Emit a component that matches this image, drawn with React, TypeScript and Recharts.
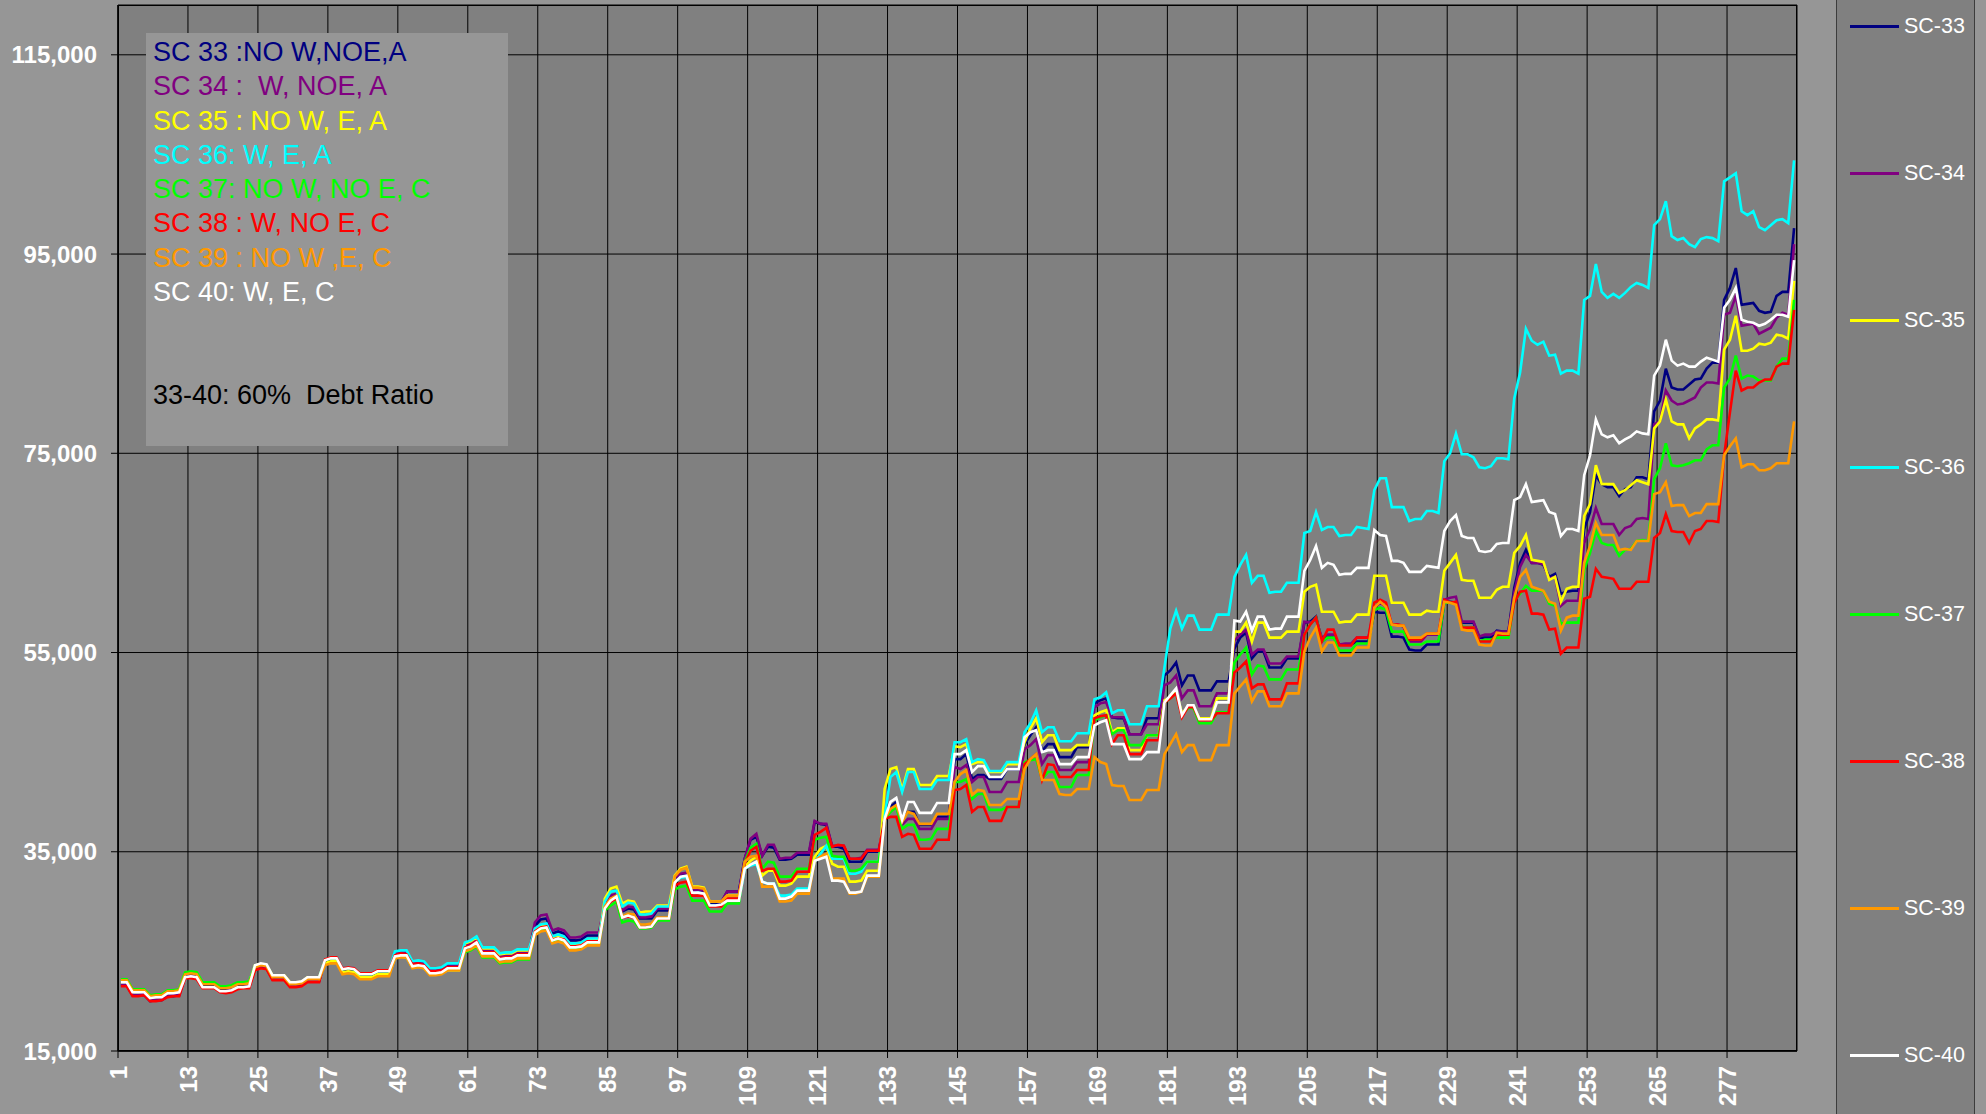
import { LineChart, Line, XAxis, YAxis, CartesianGrid } from 'recharts';

// month index 1..288 (24 years of monthly values)
const months = Array.from({ length: 288 }, (_, i) => i + 1);
const xTickLabels = [1, 13, 25, 37, 49, 61, 73, 85, 97, 109, 121, 133, 145, 157, 169, 181, 193, 205, 217, 229, 241, 253, 265, 277];
const yTicks = [15, 35, 55, 75, 95, 115]; // thousands

// values in thousands, one row per 12 months
const sc33 = [
  21.6, 21.6, 20.6, 20.6, 20.6, 20.0, 20.1, 20.1, 20.5, 20.5, 20.6,
  22.5, 22.6, 22.5, 21.5, 21.5, 21.5, 21.1, 21.1, 21.2, 21.5, 21.5, 21.6,
  23.2, 23.4, 23.3, 22.2, 22.2, 22.2, 21.5, 21.5, 21.6, 22.0, 22.0, 22.0,
  24.0, 24.2, 24.2, 23.1, 23.2, 23.1, 22.6, 22.6, 22.6, 22.9, 22.9, 22.9,
  24.8, 24.9, 24.9, 23.8, 23.9, 23.8, 23.1, 23.1, 23.2, 23.6, 23.6, 23.6,
  25.6, 25.8, 26.2, 25.1, 25.1, 25.1, 24.5, 24.6, 24.6, 24.9, 24.9, 24.9,
  27.6, 28.2, 28.3, 26.8, 27.0, 26.8, 26.1, 26.1, 26.2, 26.6, 26.6, 26.6,
  29.6, 30.5, 30.6, 29.0, 29.3, 29.2, 28.3, 28.3, 28.3, 29.1, 29.1, 29.1,
  32.2, 32.7, 32.8, 31.0, 31.0, 31.0, 29.8, 29.8, 29.9, 31.0, 31.0, 31.0,
  34.3, 36.2, 36.5, 34.6, 35.5, 35.4, 34.2, 34.2, 34.3, 34.7, 34.7, 34.7,
  38.0, 37.8, 37.7, 35.5, 35.5, 35.3, 34.0, 34.0, 34.0, 35.0, 35.0, 35.0,
  38.3, 39.5, 40.0, 38.2, 39.0, 39.0, 37.7, 37.7, 37.7, 38.5, 38.5, 38.5,
  44.3, 44.3, 44.8, 42.3, 42.7, 42.7, 42.3, 42.3, 42.3, 43.3, 43.3, 43.3,
  45.8, 46.7, 47.5, 45.1, 45.8, 45.8, 44.5, 44.5, 44.5, 45.5, 45.5, 45.5,
  49.9, 50.2, 50.4, 48.5, 48.4, 48.4, 46.8, 46.8, 46.8, 48.4, 48.4, 48.4,
  52.7, 53.2, 54.0, 51.7, 52.7, 52.7, 51.2, 51.2, 51.2, 52.1, 52.1, 52.1,
  55.4, 56.5, 57.0, 54.4, 55.1, 55.1, 53.5, 53.5, 53.5, 54.4, 54.4, 54.4,
  58.0, 58.1, 58.6, 56.1, 56.6, 56.6, 55.8, 55.8, 55.8, 56.1, 56.1, 56.1,
  59.1, 59.0, 59.0, 56.6, 56.6, 56.5, 55.3, 55.2, 55.2, 55.8, 55.8, 55.8,
  60.1, 60.1, 60.0, 58.0, 58.0, 58.0, 56.5, 56.5, 56.5, 57.2, 57.1, 57.1,
  61.5, 64.0, 65.3, 64.0, 64.0, 63.8, 62.6, 62.9, 60.9, 61.1, 61.2, 61.2,
  67.4, 69.1, 72.8, 71.9, 71.6, 71.6, 70.7, 71.4, 71.6, 72.6, 72.6, 72.4,
  79.2, 80.3, 83.5, 81.6, 81.4, 81.4, 81.9, 82.4, 82.5, 83.5, 84.1, 84.1,
  90.4, 91.6, 93.6, 89.9, 90.0, 90.1, 89.3, 89.1, 89.2, 90.8, 91.2, 91.2,
  97.6,
];

const sc34 = [
  21.6, 21.6, 20.6, 20.6, 20.7, 20.1, 20.1, 20.2, 20.5, 20.6, 20.6,
  22.4, 22.5, 22.4, 21.4, 21.4, 21.4, 21.0, 21.0, 21.1, 21.4, 21.4, 21.5,
  23.3, 23.5, 23.4, 22.3, 22.3, 22.3, 21.6, 21.6, 21.7, 22.1, 22.1, 22.1,
  24.1, 24.4, 24.4, 23.3, 23.4, 23.3, 22.7, 22.7, 22.8, 23.1, 23.1, 23.1,
  24.8, 24.9, 24.9, 23.8, 23.9, 23.8, 23.1, 23.1, 23.2, 23.6, 23.6, 23.6,
  25.6, 25.8, 26.2, 25.1, 25.1, 25.1, 24.5, 24.6, 24.6, 24.9, 24.9, 24.9,
  27.9, 28.6, 28.7, 27.1, 27.3, 27.1, 26.4, 26.4, 26.5, 26.9, 26.9, 26.9,
  29.8, 30.6, 30.8, 29.1, 29.5, 29.4, 28.4, 28.4, 28.5, 29.3, 29.3, 29.3,
  32.3, 32.8, 32.9, 31.1, 31.2, 31.1, 30.0, 30.0, 30.0, 31.0, 31.0, 31.0,
  34.3, 36.3, 36.8, 34.6, 35.7, 35.7, 34.3, 34.4, 34.4, 34.9, 34.9, 34.9,
  38.1, 37.8, 37.8, 35.6, 35.6, 35.6, 34.3, 34.3, 34.4, 35.2, 35.2, 35.2,
  38.3, 39.2, 39.5, 37.7, 38.3, 38.3, 37.3, 37.3, 37.3, 38.3, 38.3, 38.3,
  43.5, 43.3, 43.7, 42.0, 42.5, 42.5, 41.0, 41.0, 41.0, 42.0, 42.0, 42.0,
  45.3, 45.7, 46.3, 43.8, 44.7, 44.7, 43.2, 43.2, 43.2, 44.0, 44.0, 44.0,
  49.5, 49.9, 50.0, 48.5, 48.5, 48.5, 46.8, 46.8, 46.8, 47.8, 47.8, 47.8,
  51.7, 52.0, 52.7, 50.4, 51.2, 51.2, 49.6, 49.6, 49.6, 50.9, 50.9, 50.9,
  56.2, 56.8, 57.3, 54.8, 55.3, 55.3, 53.9, 53.9, 53.9, 54.6, 54.6, 54.6,
  58.1, 58.0, 58.3, 56.5, 56.8, 56.8, 55.8, 55.9, 55.9, 56.5, 56.5, 56.5,
  59.5, 60.0, 59.6, 57.8, 57.8, 57.6, 56.1, 56.1, 56.1, 56.8, 56.8, 56.8,
  60.3, 60.5, 60.6, 58.1, 58.1, 58.1, 56.6, 56.8, 56.8, 57.1, 57.1, 57.1,
  61.0, 63.6, 64.8, 64.0, 64.0, 63.9, 62.4, 62.6, 59.7, 60.2, 60.2, 60.2,
  66.0, 67.4, 69.5, 67.9, 67.9, 67.9, 66.8, 67.5, 67.7, 68.4, 68.5, 68.4,
  77.9, 78.2, 81.3, 80.3, 79.9, 80.0, 80.3, 80.6, 81.6, 82.1, 82.1, 82.0,
  88.9, 89.1, 90.8, 87.8, 87.9, 88.0, 87.0, 87.3, 87.6, 88.6, 89.1, 88.9,
  96.0,
];

const sc35 = [
  22.1, 22.1, 21.1, 21.1, 21.1, 20.5, 20.6, 20.6, 21.0, 21.0, 21.1,
  22.8, 22.9, 22.8, 21.8, 21.8, 21.8, 21.4, 21.4, 21.5, 21.8, 21.8, 21.9,
  23.6, 23.7, 23.6, 22.6, 22.6, 22.6, 21.9, 21.9, 21.9, 22.4, 22.4, 22.4,
  23.8, 24.0, 24.0, 22.9, 23.0, 22.9, 22.4, 22.4, 22.4, 22.7, 22.7, 22.7,
  24.3, 24.5, 24.4, 23.4, 23.5, 23.3, 22.7, 22.7, 22.8, 23.1, 23.1, 23.1,
  25.8, 26.0, 26.4, 25.3, 25.3, 25.3, 24.7, 24.8, 24.8, 25.1, 25.1, 25.1,
  27.2, 27.6, 27.7, 26.4, 26.6, 26.4, 25.7, 25.7, 25.8, 26.2, 26.2, 26.2,
  30.3, 31.3, 31.5, 29.8, 30.1, 30.0, 28.9, 29.0, 29.0, 29.6, 29.6, 29.6,
  32.6, 33.3, 33.5, 31.5, 31.5, 31.4, 30.0, 30.0, 30.0, 30.6, 30.6, 30.6,
  33.5, 34.1, 34.5, 32.6, 33.1, 33.1, 31.6, 31.6, 31.8, 32.5, 32.5, 32.5,
  34.5, 35.3, 35.6, 33.8, 33.5, 33.5, 32.0, 32.0, 32.1, 33.1, 33.1, 33.1,
  41.3, 43.3, 43.5, 41.2, 43.3, 43.3, 41.7, 41.7, 41.7, 42.6, 42.6, 42.6,
  45.6, 45.5, 45.8, 43.8, 44.0, 44.0, 43.0, 43.0, 43.0, 43.8, 43.8, 43.8,
  46.0, 47.4, 48.4, 46.0, 46.7, 46.7, 45.2, 45.2, 45.2, 45.7, 45.7, 45.7,
  48.7, 49.0, 49.2, 47.0, 47.4, 47.4, 45.2, 45.2, 45.2, 46.7, 46.7, 46.7,
  50.2, 50.5, 51.0, 48.9, 49.5, 49.5, 48.4, 48.4, 48.4, 50.4, 50.4, 50.4,
  57.1, 57.1, 58.0, 56.1, 58.0, 58.0, 56.5, 56.5, 56.5, 57.1, 57.1, 57.1,
  61.1, 61.6, 61.8, 59.1, 59.1, 59.1, 58.0, 58.1, 58.1, 58.8, 58.8, 58.8,
  62.7, 62.7, 62.7, 60.0, 60.0, 60.0, 58.8, 58.8, 58.8, 59.2, 59.1, 59.1,
  63.2, 64.0, 64.8, 62.3, 62.2, 62.2, 60.5, 60.5, 60.5, 61.3, 61.6, 61.6,
  65.0, 65.7, 66.8, 64.3, 64.2, 64.1, 62.3, 62.6, 60.1, 61.4, 61.6, 61.6,
  68.7, 69.9, 73.8, 71.9, 71.9, 71.9, 71.0, 71.3, 71.8, 72.3, 72.1, 71.9,
  77.5, 78.2, 80.4, 78.2, 77.9, 77.9, 76.5, 77.5, 77.9, 78.4, 78.4, 78.3,
  85.4, 86.4, 88.8, 85.3, 85.3, 85.5, 86.0, 85.9, 86.1, 86.9, 86.8, 86.5,
  92.3,
];

const sc36 = [
  22.0, 22.0, 21.0, 21.0, 21.0, 20.4, 20.5, 20.5, 20.9, 20.9, 21.0,
  22.8, 22.9, 22.8, 21.8, 21.8, 21.8, 21.4, 21.4, 21.5, 21.8, 21.8, 21.9,
  23.5, 23.7, 23.6, 22.5, 22.5, 22.5, 21.8, 21.8, 21.9, 22.3, 22.3, 22.3,
  24.2, 24.4, 24.4, 23.3, 23.4, 23.3, 22.8, 22.8, 22.8, 23.1, 23.1, 23.1,
  25.0, 25.1, 25.1, 24.0, 24.1, 24.0, 23.3, 23.3, 23.4, 23.8, 23.8, 23.8,
  25.9, 26.1, 26.5, 25.4, 25.4, 25.4, 24.8, 24.9, 24.9, 25.2, 25.2, 25.2,
  27.3, 27.7, 27.8, 26.5, 26.7, 26.5, 25.8, 25.8, 25.9, 26.3, 26.3, 26.3,
  30.0, 31.0, 31.1, 29.5, 29.9, 29.8, 28.7, 28.7, 28.8, 29.5, 29.5, 29.5,
  32.0, 32.4, 32.5, 30.8, 30.9, 30.8, 29.6, 29.6, 29.6, 30.1, 30.1, 30.1,
  33.3, 33.6, 33.8, 32.0, 31.8, 31.8, 30.6, 30.6, 30.7, 31.3, 31.3, 31.3,
  34.0, 34.8, 35.6, 34.3, 34.3, 34.3, 32.8, 32.8, 33.0, 34.0, 34.0, 34.0,
  38.5, 42.5, 43.0, 41.0, 43.0, 43.0, 41.3, 41.3, 41.3, 42.2, 42.2, 42.2,
  46.0, 46.0, 46.3, 44.0, 44.3, 44.2, 43.1, 43.1, 43.1, 44.0, 44.0, 44.0,
  47.0, 47.9, 49.2, 47.0, 47.5, 47.5, 46.1, 46.1, 46.1, 46.9, 46.9, 46.9,
  50.3, 50.5, 51.0, 48.9, 49.2, 49.2, 47.8, 47.8, 47.8, 49.6, 49.6, 49.6,
  53.5, 57.4, 59.2, 57.4, 58.7, 58.7, 57.3, 57.3, 57.3, 58.8, 58.8, 58.8,
  62.6, 63.8, 64.8, 62.0, 62.7, 62.7, 61.0, 61.1, 61.1, 62.0, 62.0, 62.0,
  67.0, 67.2, 69.1, 67.3, 67.6, 67.6, 66.7, 66.8, 66.8, 67.6, 67.5, 67.4,
  71.3, 72.5, 72.5, 69.6, 69.6, 69.6, 68.2, 68.4, 68.4, 69.2, 69.2, 69.0,
  74.2, 75.0, 77.0, 74.9, 74.9, 74.6, 73.6, 73.5, 73.7, 74.5, 74.5, 74.4,
  80.5, 83.1, 87.5, 86.3, 85.9, 86.2, 84.8, 84.9, 83.0, 83.3, 83.3, 83.0,
  90.4, 90.8, 94.0, 91.2, 90.6, 91.0, 90.6, 91.1, 91.7, 92.1, 91.9, 91.6,
  97.9, 98.5, 100.3, 96.8, 96.4, 96.6, 96.0, 95.7, 96.5, 96.7, 96.6, 96.3,
  102.3, 102.7, 103.1, 99.3, 98.9, 99.3, 97.7, 97.4, 97.9, 98.4, 98.5, 98.1,
  104.4,
];

const sc37 = [
  22.2, 22.2, 21.2, 21.2, 21.2, 20.6, 20.7, 20.7, 21.1, 21.1, 21.2,
  22.9, 23.0, 22.9, 21.9, 21.9, 21.9, 21.5, 21.5, 21.6, 21.9, 21.9, 22.0,
  23.5, 23.7, 23.6, 22.5, 22.5, 22.5, 21.8, 21.8, 21.9, 22.3, 22.3, 22.3,
  24.1, 24.3, 24.3, 23.2, 23.3, 23.2, 22.7, 22.7, 22.7, 23.0, 23.0, 23.0,
  24.4, 24.5, 24.5, 23.4, 23.5, 23.4, 22.7, 22.7, 22.8, 23.2, 23.2, 23.2,
  24.9, 25.1, 25.5, 24.4, 24.4, 24.4, 23.8, 23.9, 23.9, 24.2, 24.2, 24.2,
  26.8, 27.2, 27.3, 26.0, 26.1, 26.0, 25.3, 25.3, 25.4, 25.8, 25.8, 25.8,
  29.1, 29.6, 30.0, 27.9, 28.1, 28.0, 27.3, 27.3, 27.4, 28.1, 28.1, 28.1,
  31.2, 31.5, 31.6, 30.1, 30.1, 30.1, 29.0, 29.0, 29.0, 29.8, 29.8, 29.8,
  34.0, 35.4, 35.8, 33.3, 34.0, 33.9, 32.5, 32.5, 32.5, 33.3, 33.3, 33.3,
  36.2, 36.4, 36.5, 34.6, 34.5, 34.5, 33.1, 33.1, 33.3, 34.0, 34.0, 34.0,
  38.3, 39.0, 39.5, 37.3, 37.7, 37.7, 36.2, 36.2, 36.3, 37.3, 37.3, 37.3,
  42.0, 42.0, 42.3, 40.3, 40.8, 40.8, 39.2, 39.2, 39.2, 39.5, 39.5, 39.5,
  44.0, 44.2, 44.3, 42.3, 43.0, 43.0, 41.5, 41.5, 41.5, 42.7, 42.7, 42.7,
  48.2, 48.5, 48.7, 46.8, 47.2, 47.2, 45.7, 45.7, 45.7, 46.7, 46.7, 46.7,
  50.0, 50.4, 50.9, 48.7, 49.4, 49.4, 47.9, 47.9, 47.9, 49.0, 49.0, 49.0,
  54.0, 54.8, 55.5, 52.8, 53.7, 53.6, 52.3, 52.3, 52.3, 53.3, 53.3, 53.3,
  56.8, 57.8, 58.5, 56.1, 56.5, 56.5, 55.2, 55.2, 55.2, 55.9, 55.9, 55.9,
  59.3, 59.5, 59.3, 57.1, 57.1, 57.1, 55.8, 55.8, 55.8, 56.1, 56.1, 56.1,
  60.0, 60.0, 59.9, 57.6, 57.5, 57.5, 56.1, 56.3, 56.3, 56.5, 56.5, 56.5,
  60.2, 60.9, 61.7, 61.2, 61.2, 61.2, 59.9, 59.7, 57.9, 58.0, 58.0, 58.0,
  63.3, 65.0, 67.2, 66.0, 65.8, 65.8, 64.7, 65.3, 65.4, 66.2, 66.3, 66.2,
  72.4, 73.5, 76.0, 73.8, 73.7, 73.8, 74.0, 74.3, 74.3, 75.4, 75.8, 75.8,
  81.6, 82.5, 84.8, 82.5, 82.8, 82.7, 82.3, 82.3, 82.3, 83.7, 84.5, 84.5,
  90.4,
];

const sc38 = [
  21.5, 21.5, 20.5, 20.5, 20.6, 20.0, 20.0, 20.1, 20.4, 20.5, 20.5,
  22.3, 22.3, 22.2, 21.3, 21.3, 21.3, 20.9, 20.8, 20.9, 21.2, 21.3, 21.3,
  23.1, 23.3, 23.2, 22.1, 22.1, 22.1, 21.4, 21.4, 21.5, 21.9, 21.9, 21.9,
  24.2, 24.4, 24.4, 23.3, 23.4, 23.3, 22.8, 22.8, 22.8, 23.1, 23.1, 23.1,
  24.6, 24.8, 24.7, 23.7, 23.8, 23.6, 23.0, 23.0, 23.1, 23.4, 23.4, 23.4,
  25.4, 25.6, 26.0, 24.9, 24.9, 24.9, 24.3, 24.4, 24.4, 24.7, 24.7, 24.7,
  27.0, 27.4, 27.5, 26.2, 26.3, 26.2, 25.5, 25.5, 25.6, 26.0, 26.0, 26.0,
  29.3, 30.0, 30.3, 28.4, 28.5, 28.4, 27.4, 27.4, 27.5, 28.3, 28.3, 28.3,
  31.6, 31.9, 32.0, 30.6, 30.6, 30.6, 29.5, 29.5, 29.5, 30.3, 30.3, 30.3,
  33.8, 35.1, 35.5, 33.1, 33.3, 33.3, 32.0, 32.0, 32.1, 33.0, 33.0, 33.0,
  36.7, 37.0, 37.4, 35.5, 35.7, 35.6, 34.3, 34.3, 34.3, 35.1, 35.1, 35.1,
  38.3, 38.5, 38.5, 36.5, 36.8, 36.7, 35.3, 35.3, 35.3, 36.2, 36.2, 36.2,
  41.2, 41.3, 41.7, 39.0, 39.5, 39.5, 38.1, 38.1, 38.1, 39.5, 39.5, 39.5,
  43.8, 44.3, 44.8, 42.2, 43.8, 43.7, 42.5, 42.5, 42.5, 43.2, 43.2, 43.2,
  48.4, 48.6, 48.7, 45.8, 46.7, 46.7, 44.8, 44.8, 44.8, 46.2, 46.2, 46.2,
  50.0, 50.4, 50.9, 48.5, 49.5, 49.5, 48.2, 48.2, 48.2, 48.9, 48.9, 48.9,
  53.0, 53.5, 54.1, 51.4, 51.8, 51.8, 50.3, 50.3, 50.3, 51.9, 51.9, 51.9,
  56.8, 57.8, 58.5, 56.1, 57.3, 57.3, 55.7, 55.7, 55.7, 56.5, 56.5, 56.5,
  60.0, 60.3, 60.0, 57.8, 57.8, 57.7, 56.3, 56.3, 56.3, 56.9, 56.9, 56.9,
  60.3, 60.0, 60.1, 57.5, 57.5, 57.5, 56.1, 56.1, 56.1, 56.8, 56.8, 56.8,
  60.0, 61.1, 61.2, 58.9, 58.9, 58.8, 57.3, 57.4, 54.9, 55.5, 55.5, 55.5,
  60.4, 60.6, 63.4, 62.6, 62.5, 62.4, 61.4, 61.4, 61.4, 62.1, 62.1, 62.1,
  66.5, 67.0, 68.9, 67.2, 67.1, 67.1, 66.0, 67.2, 67.4, 68.2, 68.2, 68.1,
  74.8, 79.1, 83.3, 81.3, 81.6, 81.6, 82.1, 82.4, 82.4, 83.7, 84.0, 84.0,
  89.4,
];

const sc39 = [
  22.1, 22.1, 21.1, 21.1, 21.1, 20.5, 20.6, 20.6, 21.0, 21.0, 21.1,
  22.7, 22.8, 22.7, 21.7, 21.7, 21.7, 21.3, 21.3, 21.4, 21.7, 21.7, 21.8,
  23.4, 23.6, 23.5, 22.4, 22.4, 22.4, 21.7, 21.7, 21.8, 22.2, 22.2, 22.2,
  23.6, 23.8, 23.8, 22.7, 22.8, 22.7, 22.2, 22.2, 22.2, 22.5, 22.5, 22.5,
  24.3, 24.4, 24.4, 23.3, 23.4, 23.3, 22.6, 22.6, 22.7, 23.1, 23.1, 23.1,
  25.0, 25.2, 25.6, 24.5, 24.5, 24.5, 23.9, 24.0, 24.0, 24.3, 24.3, 24.3,
  26.6, 27.0, 27.1, 25.8, 26.0, 25.8, 25.1, 25.1, 25.2, 25.6, 25.6, 25.6,
  29.5, 30.3, 30.6, 28.5, 28.8, 28.7, 27.7, 27.7, 27.8, 28.4, 28.4, 28.4,
  32.5, 33.2, 33.4, 31.4, 31.4, 31.3, 30.0, 30.0, 30.0, 30.6, 30.6, 30.6,
  34.0, 34.5, 34.6, 31.5, 31.5, 31.5, 30.0, 30.0, 30.1, 30.8, 30.8, 30.8,
  34.1, 34.5, 34.8, 32.3, 32.3, 32.3, 30.8, 30.8, 31.0, 32.5, 32.5, 32.5,
  38.3, 39.3, 39.7, 38.0, 39.0, 38.8, 37.8, 37.8, 37.8, 38.8, 38.8, 38.8,
  42.0, 42.8, 43.2, 40.7, 41.2, 41.1, 39.7, 39.7, 39.7, 40.3, 40.3, 40.3,
  43.3, 44.3, 44.8, 42.2, 42.2, 42.2, 40.8, 40.7, 40.7, 41.3, 41.3, 41.3,
  44.5, 44.0, 43.8, 41.7, 41.6, 41.6, 40.2, 40.2, 40.2, 41.2, 41.2, 41.2,
  44.8, 45.8, 46.8, 45.0, 45.7, 45.7, 44.2, 44.2, 44.2, 45.7, 45.7, 45.7,
  50.9, 51.6, 52.3, 50.1, 51.1, 51.1, 49.6, 49.6, 49.6, 50.9, 50.9, 50.9,
  55.1, 56.5, 57.5, 55.1, 56.0, 56.0, 54.7, 54.7, 54.7, 55.5, 55.5, 55.5,
  59.5, 60.1, 59.6, 57.8, 57.7, 57.7, 56.5, 56.5, 56.5, 56.9, 56.9, 56.9,
  60.1, 60.0, 59.8, 57.3, 57.2, 57.2, 55.8, 55.7, 55.7, 57.0, 56.9, 56.9,
  60.5, 62.6, 63.3, 61.6, 61.4, 61.2, 60.1, 59.9, 57.2, 58.5, 58.7, 58.7,
  64.0, 65.7, 68.0, 66.8, 66.8, 66.8, 65.3, 65.4, 65.3, 66.2, 66.2, 66.2,
  70.9, 71.1, 72.1, 69.7, 69.8, 69.8, 68.7, 69.0, 69.0, 69.9, 69.9, 69.9,
  74.8, 75.7, 76.5, 73.6, 73.9, 73.9, 73.3, 73.3, 73.5, 74.0, 74.0, 74.0,
  78.2,
];

const sc40 = [
  21.9, 21.9, 20.9, 20.9, 20.9, 20.3, 20.4, 20.4, 20.8, 20.8, 20.9,
  22.4, 22.5, 22.4, 21.4, 21.4, 21.4, 21.0, 21.0, 21.1, 21.4, 21.4, 21.5,
  23.6, 23.8, 23.7, 22.6, 22.6, 22.6, 21.9, 21.9, 22.0, 22.4, 22.4, 22.4,
  24.1, 24.3, 24.3, 23.2, 23.3, 23.2, 22.7, 22.7, 22.7, 23.0, 23.0, 23.0,
  24.5, 24.6, 24.6, 23.5, 23.6, 23.5, 22.8, 22.8, 22.9, 23.3, 23.3, 23.3,
  25.3, 25.5, 25.9, 24.8, 24.8, 24.8, 24.2, 24.3, 24.3, 24.6, 24.6, 24.6,
  26.9, 27.3, 27.4, 26.1, 26.3, 26.1, 25.4, 25.4, 25.5, 25.9, 25.9, 25.9,
  29.3, 30.1, 30.5, 28.4, 28.6, 28.4, 27.4, 27.4, 27.5, 28.3, 28.3, 28.3,
  31.9, 32.5, 32.6, 30.9, 30.9, 30.8, 29.6, 29.6, 29.7, 30.1, 30.1, 30.1,
  33.3, 33.7, 34.0, 32.0, 31.8, 31.8, 30.3, 30.3, 30.5, 31.1, 31.1, 31.1,
  34.1, 34.3, 34.5, 32.1, 32.1, 32.0, 30.9, 30.9, 31.0, 32.6, 32.6, 32.6,
  38.3, 40.0, 40.4, 38.2, 40.0, 40.0, 38.9, 38.9, 38.9, 39.9, 39.9, 39.9,
  44.8, 44.8, 45.2, 43.0, 43.6, 43.6, 42.5, 42.5, 42.5, 43.3, 43.3, 43.3,
  46.5, 47.0, 47.2, 45.0, 45.2, 45.2, 43.8, 43.8, 43.8, 44.5, 44.5, 44.5,
  47.7, 48.0, 48.2, 45.8, 45.8, 45.8, 44.3, 44.3, 44.3, 45.0, 45.0, 45.0,
  50.0, 50.7, 51.4, 48.7, 49.7, 49.7, 48.3, 48.3, 48.3, 50.0, 50.0, 50.0,
  58.2, 58.1, 59.1, 57.2, 58.6, 58.6, 57.3, 57.4, 57.4, 58.6, 58.6, 58.6,
  63.2, 64.3, 65.7, 63.5, 64.0, 63.8, 62.8, 62.9, 62.9, 63.5, 63.5, 63.5,
  67.3, 66.8, 66.7, 64.2, 64.2, 64.0, 63.1, 63.1, 63.1, 63.7, 63.6, 63.5,
  67.2, 68.2, 68.8, 66.7, 66.5, 66.5, 65.2, 65.1, 65.2, 65.9, 66.0, 66.0,
  70.3, 70.6, 71.9, 70.1, 70.2, 70.3, 69.1, 68.9, 66.7, 67.4, 67.4, 67.2,
  72.8, 74.8, 78.4, 76.9, 76.6, 76.8, 76.0, 76.4, 76.7, 77.2, 77.0, 76.9,
  82.8, 83.8, 86.4, 84.3, 83.8, 84.0, 83.7, 83.7, 84.2, 84.6, 84.4, 84.2,
  89.6, 90.4, 91.6, 88.4, 88.2, 88.1, 87.8, 88.0, 88.4, 88.9, 88.9, 88.7,
  94.4,
];

const seriesKeys = ['sc33', 'sc34', 'sc35', 'sc36', 'sc37', 'sc38', 'sc39', 'sc40'];
const seriesNames = ['SC-33', 'SC-34', 'SC-35', 'SC-36', 'SC-37', 'SC-38', 'SC-39', 'SC-40'];
const seriesColors = ['#000080', '#800080', '#FFFF00', '#00FFFF', '#00FF00', '#FF0000', '#FF9900', '#FFFFFF'];
const seriesValues = [sc33, sc34, sc35, sc36, sc37, sc38, sc39, sc40];

const noteLines = [
  'SC 33 :NO W,NOE,A',
  'SC 34 :  W, NOE, A',
  'SC 35 : NO W, E, A',
  'SC 36: W, E, A',
  'SC 37: NO W, NO E, C',
  'SC 38 : W, NO E, C',
  'SC 39 : NO W ,E, C',
  'SC 40: W, E, C',
];
const noteFooter = '33-40: 60%  Debt Ratio';

const rows = months.map((m, i) => {
  const row: Record<string, number> = { month: m };
  seriesKeys.forEach((k, s) => {
    row[k] = seriesValues[s][i];
  });
  return row;
});

const FONT = '"Liberation Sans", Arial, sans-serif';
const W = 1986;
const H = 1114;

const XTick = (props: any) => {
  const { x, y, payload } = props;
  return (
    <text
      x={x}
      y={y}
      transform={`rotate(-90, ${x}, ${y})`}
      textAnchor="end"
      dy="0.36em"
      fill="#ffffff"
      fontSize={24}
      fontWeight="bold"
      fontFamily={FONT}
    >
      {payload.value + 0.5}
    </text>
  );
};

export default function App() {
  return (
    <div
      style={{
        position: 'absolute',
        left: 0,
        top: 0,
        width: W,
        height: H,
        background: '#969696',
        overflow: 'hidden',
        fontFamily: FONT,
      }}
    >
      <LineChart width={W} height={H} data={rows} margin={{ top: 5, right: 189, bottom: 0, left: 0 }}>
        <CartesianGrid stroke="#000000" strokeWidth={1} fill="#808080" fillOpacity={1} />
        <XAxis
          dataKey="month"
          type="number"
          domain={[0.5, 288.5]}
          ticks={xTickLabels.map((v) => v - 0.5)}
          interval={0}
          height={63}
          tickSize={7}
          tickMargin={8}
          axisLine={{ stroke: '#000000', strokeWidth: 1.5 }}
          tickLine={{ stroke: '#000000' }}
          tick={<XTick />}
          allowDataOverflow
        />
        <YAxis
          type="number"
          domain={[15, 120]}
          ticks={yTicks}
          interval={0}
          width={118}
          tickSize={7}
          tickMargin={14}
          axisLine={{ stroke: '#000000', strokeWidth: 1.5 }}
          tickLine={{ stroke: '#000000' }}
          tick={{ fill: '#ffffff', fontSize: 24, fontWeight: 'bold', fontFamily: FONT }}
          tickFormatter={(v: number) => `${v},000`}
          allowDataOverflow
        />
        {seriesKeys.map((k, i) => (
          <Line
            key={k}
            type="linear"
            dataKey={k}
            name={seriesNames[i]}
            stroke={seriesColors[i]}
            strokeWidth={2.6}
            dot={false}
            activeDot={false}
            isAnimationActive={false}
          />
        ))}
      </LineChart>

      {/* plot border */}
      <div
        style={{
          position: 'absolute',
          left: 118,
          top: 5,
          width: 1679,
          height: 1046,
          border: '1px solid #000',
          boxSizing: 'border-box',
          pointerEvents: 'none',
        }}
      />

      {/* text box */}
      <div
        style={{
          position: 'absolute',
          left: 146,
          top: 33,
          width: 362,
          height: 413,
          background: '#969696',
        }}
      >
        <div style={{ position: 'absolute', left: 7, top: 2, fontSize: 27, lineHeight: '34.3px', whiteSpace: 'pre' }}>
          {noteLines.map((t, i) => (
            <div key={t} style={{ color: seriesColors[i] }}>{t}</div>
          ))}
        </div>
        <div style={{ position: 'absolute', left: 7, top: 345, fontSize: 27, lineHeight: '34.3px', whiteSpace: 'pre', color: '#000' }}>
          {noteFooter}
        </div>
      </div>

      {/* legend */}
      <div
        style={{
          position: 'absolute',
          left: 1836,
          top: -2,
          width: 139,
          height: H + 4,
          background: '#808080',
          borderLeft: '1.5px solid #3c3c3c',
          borderRight: '1.5px solid #3c3c3c',
          boxSizing: 'border-box',
        }}
      >
        {seriesNames.map((n, i) => (
          <div key={n} style={{ position: 'absolute', left: 0, top: 28 + i * 147 - 15, height: 30, width: 139 }}>
            <div style={{ position: 'absolute', left: 13, top: 14, width: 49, height: 3, background: seriesColors[i] }} />
            <div style={{ position: 'absolute', left: 67, top: 0, fontSize: 21.5, lineHeight: '30px', color: '#ffffff' }}>{n}</div>
          </div>
        ))}
      </div>
    </div>
  );
}
